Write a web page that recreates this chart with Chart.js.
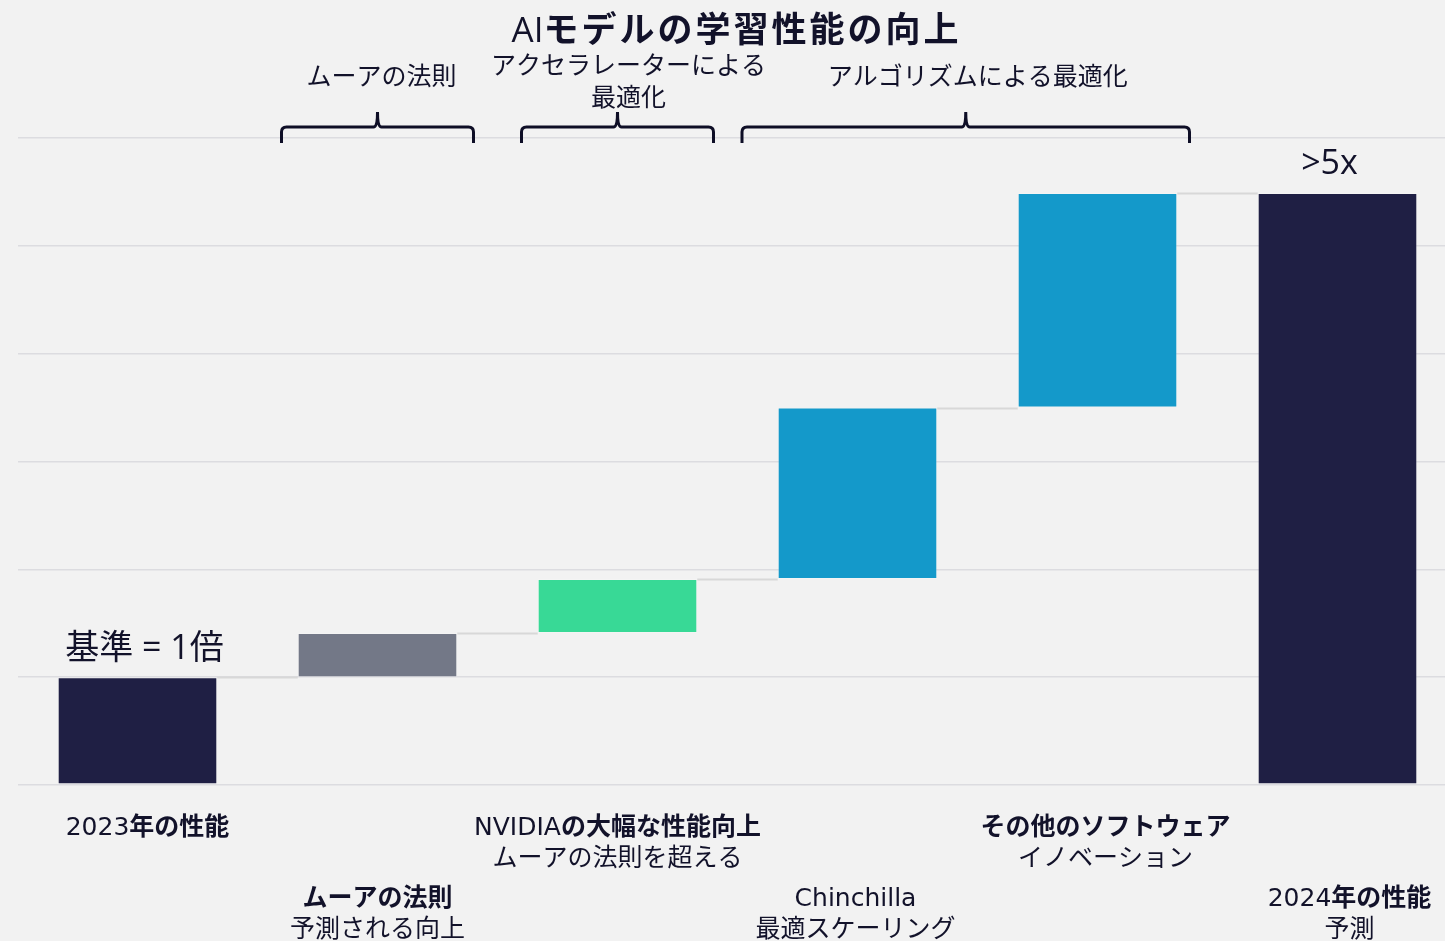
<!DOCTYPE html>
<html>
<head>
<meta charset="utf-8">
<script src="https://cdn.jsdelivr.net/npm/chart.js@4.4.1/dist/chart.umd.min.js"></script>
<style>
  html, body { margin: 0; padding: 0; background: #f2f2f2; overflow: hidden; }
  #wrap { width: 1445px; height: 941px; overflow: hidden; position: relative; }
  canvas { display: block; }
</style>
</head>
<body>
<div id="wrap"><canvas id="c" width="1460" height="941"></canvas></div>
<script>
// ---- data ----
const title = 'AIモデルの学習性能の向上';
const categories = ['2023年の性能', 'ムーアの法則', 'NVIDIAの大幅な性能向上', 'Chinchilla', 'その他のソフトウェア', '2024年の性能'];
const subLabels = ['', '予測される向上', 'ムーアの法則を超える', '最適スケーリング', 'イノベーション', '予測'];
const barStart = [0, 1, 1.41, 1.91, 3.5, 0];
const barEnd = [1, 1.41, 1.91, 3.5, 5.49, 5.49];
const yTicks = [0, 1, 2, 3, 4, 5, 6];
const baseLabel = '基準 = 1倍';
const finalLabel = '>5x';
const bracketLabels = [['ムーアの法則'], ['アクセラレーターによる', '最適化'], ['アルゴリズムによる最適化']];
const bracketFrom = [1, 2, 3];
const bracketTo = [1, 2, 4];

// ---- styles ----
const CJK = '"Noto Sans CJK JP", sans-serif';
const LATIN = '"DejaVu Sans", "Noto Sans", sans-serif';
const LATIN_TITLE = '"Open Sans", "Noto Sans", sans-serif';
const TEXT = '#12122a';
const barColors = ['#1f1f44', '#737887', '#38d996', '#1499ca', '#1499ca', '#1f1f44'];
const bracketPad = [[96, 96], [96, 96], [115.5, 92]];
const bracketLabelDx = [4, 11, 12];
const labelDx = [10, 0, 0, -2, 8, 12];

const floating = barStart.map((s, i) => [s, barEnd[i]]);

function drawMixed(ctx, text, cx, y, size, boldNonAscii, spacing, latinFont, latinScale) {
  const runs = [];
  for (const ch of text) {
    const ascii = ch.charCodeAt(0) < 128;
    if (runs.length && runs[runs.length - 1].ascii === ascii) runs[runs.length - 1].t += ch;
    else runs.push({ t: ch, ascii });
  }
  const sp = spacing || 0;
  const lf = latinFont || LATIN;
  const ls = latinScale || 1;
  runs.forEach(r => {
    const w = (boldNonAscii && !r.ascii) ? '700' : '400';
    r.font = r.ascii ? `400 ${Math.round(size * ls)}px ${lf}` : `${w} ${size}px ${CJK}`;
    r.sp = r.ascii ? 0 : sp;
    ctx.font = r.font;
    ctx.letterSpacing = r.sp + 'px';
    r.w = ctx.measureText(r.t).width;
  });
  const total = runs.reduce((a, r) => a + r.w, 0) - (runs.length ? runs[runs.length - 1].sp : 0);
  let x = cx - total / 2;
  ctx.textAlign = 'left';
  ctx.textBaseline = 'alphabetic';
  const by = y + size * 0.36;
  runs.forEach(r => {
    ctx.font = r.font;
    ctx.letterSpacing = r.sp + 'px';
    ctx.fillText(r.t, x, by);
    x += r.w;
  });
  ctx.letterSpacing = '0px';
}

const decor = {
  id: 'decor',
  afterDatasetsDraw(chart) {
    const ctx = chart.ctx;
    const ys = chart.scales.y;
    const meta = chart.getDatasetMeta(0);
    ctx.save();
    ctx.strokeStyle = '#d8d8d8';
    ctx.lineWidth = 2;
    for (let i = 0; i < meta.data.length - 1; i++) {
      const a = meta.data[i], b = meta.data[i + 1];
      const y = Math.round(ys.getPixelForValue(barEnd[i])) + 0.5;
      ctx.beginPath();
      ctx.moveTo(a.x + a.width / 2, y);
      ctx.lineTo(b.x - b.width / 2, y);
      ctx.stroke();
    }
    ctx.restore();
  },
  afterDraw(chart) {
    const ctx = chart.ctx;
    const xs = chart.scales.x, ys = chart.scales.y;
    const meta = chart.getDatasetMeta(0);
    ctx.save();
    ctx.fillStyle = TEXT;
    // title
    drawMixed(ctx, title, 735, 29, 35, true, 3, LATIN_TITLE, 1.0);

    // bottom labels
    categories.forEach((c, i) => {
      const cx = xs.getPixelForValue(i) + labelDx[i];
      const y0 = (i % 2 === 0) ? 826 : 897;
      drawMixed(ctx, c, cx, y0, 25, true, 0);
      if (subLabels[i]) drawMixed(ctx, subLabels[i], cx, y0 + 31, 25, false, 0);
    });

    // top value labels
    const b0 = meta.data[0], bl = meta.data[meta.data.length - 1];
    drawMixed(ctx, baseLabel, b0.x + 7, ys.getPixelForValue(barEnd[0]) - 30, 34, false, 0, LATIN_TITLE);
    drawMixed(ctx, finalLabel, bl.x - 8, ys.getPixelForValue(barEnd[barEnd.length - 1]) - 31, 34, false, 0, LATIN_TITLE);

    // brackets
    ctx.strokeStyle = '#0e0e26';
    ctx.lineWidth = 3;
    ctx.lineJoin = 'round';
    bracketLabels.forEach((lines, k) => {
      const l = xs.getPixelForValue(bracketFrom[k]) - bracketPad[k][0];
      const r = xs.getPixelForValue(bracketTo[k]) + bracketPad[k][1];
      const m = (l + r) / 2;
      const yb = 127, ye = 143, yt = 112, rad = 5;
      ctx.beginPath();
      ctx.moveTo(l, ye);
      ctx.lineTo(l, yb + rad);
      ctx.quadraticCurveTo(l, yb, l + rad, yb);
      ctx.lineTo(m - 4, yb);
      ctx.quadraticCurveTo(m, yb, m, yt);
      ctx.moveTo(m, yt);
      ctx.quadraticCurveTo(m, yb, m + 4, yb);
      ctx.lineTo(r - rad, yb);
      ctx.quadraticCurveTo(r, yb, r, yb + rad);
      ctx.lineTo(r, ye);
      ctx.stroke();
      const lh = 32;
      const baseY = lines.length === 1 ? 76 : 65;
      lines.forEach((t, j) => drawMixed(ctx, t, m + bracketLabelDx[k], baseY + j * lh, 25, false, 0));
    });
    ctx.restore();
  }
};

new Chart(document.getElementById('c'), {
  type: 'bar',
  data: {
    labels: categories,
    datasets: [{
      data: floating,
      backgroundColor: barColors,
      borderColor: 'rgba(255,255,255,0.2)',
      borderWidth: 1,
      borderSkipped: false,
      barPercentage: 0.665,
      categoryPercentage: 1.0
    }]
  },
  options: {
    responsive: false,
    animation: false,
    devicePixelRatio: 1,
    layout: { padding: { left: 17.5, right: 2.5, top: 138, bottom: 156 } },
    plugins: { legend: { display: false }, tooltip: { enabled: false }, title: { display: false } },
    scales: {
      x: { display: false },
      y: {
        min: yTicks[0], max: yTicks[yTicks.length - 1],
        afterBuildTicks(scale) { scale.ticks = yTicks.map(v => ({ value: v })); },
        ticks: { display: false },
        border: { display: false },
        grid: { color: '#dcdce0', lineWidth: 1.5, drawTicks: false }
      }
    }
  },
  plugins: [decor]
});
</script>
</body>
</html>
